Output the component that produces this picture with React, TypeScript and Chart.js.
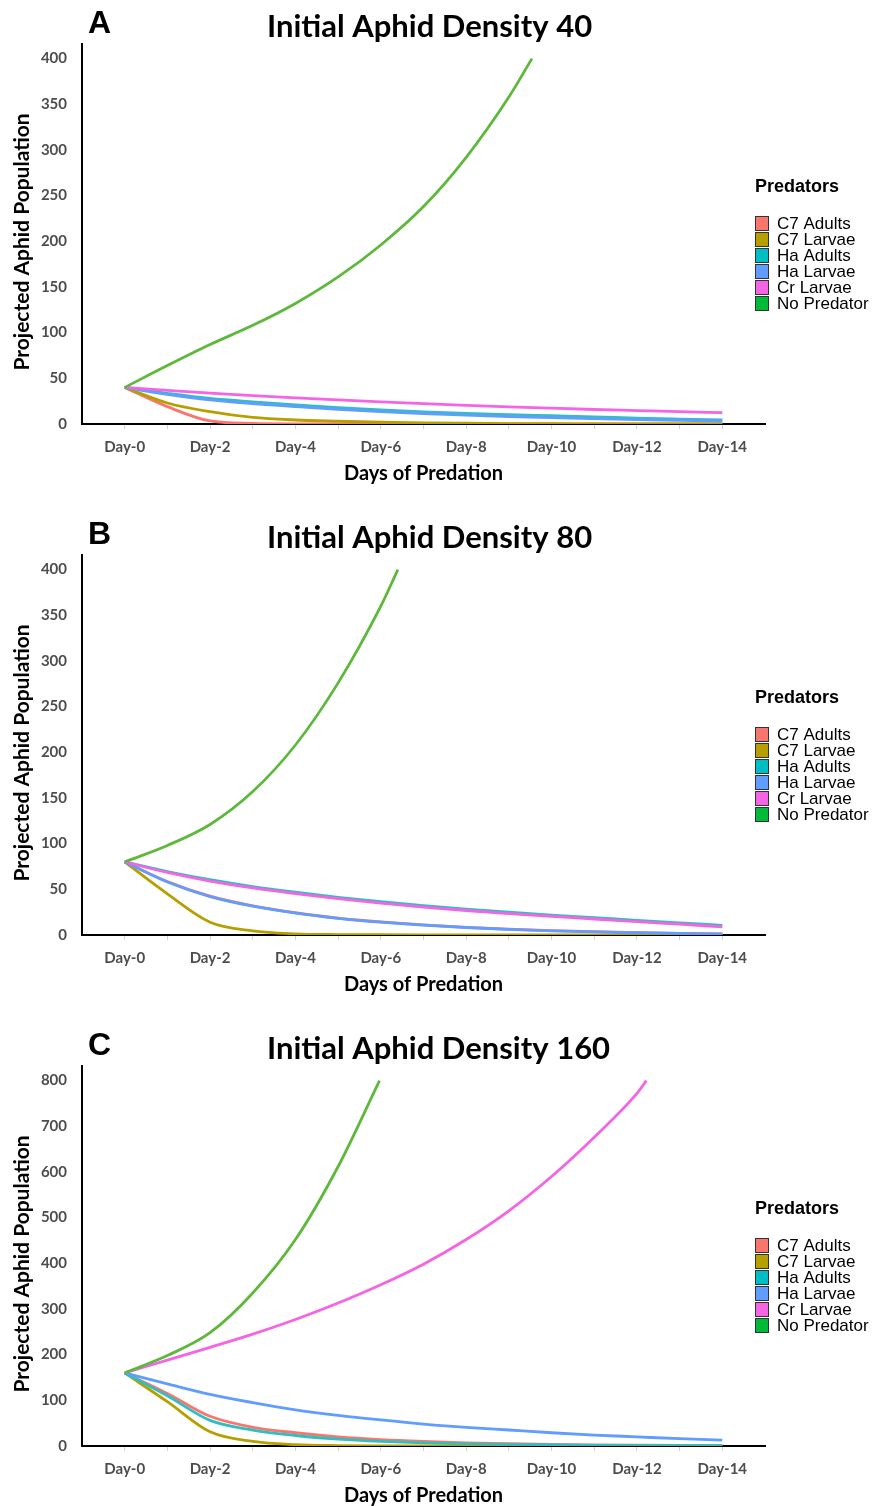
import React, { useEffect, useRef } from 'react';
import { Chart, registerables } from 'chart.js';

Chart.register(...registerables);

// ---------- shared ----------
const days = [0, 1, 2, 3, 4, 5, 6, 7, 8, 9, 10, 11, 12, 13, 14];
const seriesNames = ['C7 Adults', 'C7 Larvae', 'Ha Adults', 'Ha Larvae', 'Cr Larvae', 'No Predator'];
const legendColors = ['#F8766D', '#B79F00', '#00BFC4', '#619CFF', '#F564E3', '#00BA38'];
const lineColors = ['#F8766D', '#B79F00', '#2EBFC2', '#619CFF', '#F564E3', '#5EB83B'];

// ---------- Panel A: initial density 40 ----------
const c7AdultsA = [40, 19, 3.3, 0.6, 0.1, 0, 0, 0, 0, 0, 0, 0, 0, 0, 0];
const c7LarvaeA = [40, 23, 13.5, 7.2, 4.4, 3, 1.9, 1.2, 0.8, 0.5, 0.3, 0.2, 0.1, 0.1, 0.05];
const haAdultsA = [40, 33.6, 28, 24.2, 21, 18, 15.4, 13.3, 11.6, 10.3, 9.1, 7.9, 6.5, 5.4, 4.4];
const haLarvaeA = [40, 32.5, 26.4, 22.2, 19, 16, 13.5, 11.5, 9.8, 8.2, 6.9, 5.8, 4.8, 4, 3.3];
const crLarvaeA = [40, 36.8, 33.8, 31.1, 28.6, 26.3, 24.2, 22.3, 20.5, 18.8, 17.3, 15.9, 14.7, 13.5, 12.4];
const noPredatorDaysA = [0, 1, 2, 3, 4, 5, 6, 7, 8, 9, 9.54];
const noPredatorA = [40, 64, 87, 108, 132, 161, 196, 238, 292, 358, 400];

// ---------- Panel B: initial density 80 ----------
const c7AdultsB = [80, 58.5, 42.5, 32, 24.5, 18.5, 14.4, 11, 8.4, 6.3, 4.8, 3.6, 2.6, 1.8, 1.2];
const c7LarvaeB = [80, 45, 14, 4.5, 1.3, 0.5, 0.3, 0.2, 0.1, 0.1, 0, 0, 0, 0, 0];
const haAdultsB = [80, 69.5, 60.5, 53, 46.8, 41.3, 36.4, 32.1, 28.3, 24.9, 21.8, 19, 16.1, 13.3, 10.6];
const haLarvaeB = [80, 58, 42, 31.5, 24, 18.3, 14, 10.7, 8.2, 6.2, 4.6, 3.4, 2.5, 1.7, 1.1];
const crLarvaeB = [80, 68.5, 59, 51.5, 45.3, 39.8, 34.9, 30.6, 26.8, 23.4, 20.3, 17.5, 14.6, 11.8, 9];
const noPredatorDaysB = [0, 1, 2, 3, 4, 5, 6, 6.4];
const noPredatorB = [80, 98, 121, 157, 208, 276, 360, 400];

// ---------- Panel C: initial density 160 ----------
const c7AdultsC = [160, 115, 65, 41, 29, 20, 14, 10, 7, 5, 3.5, 2.5, 1.8, 1.3, 1];
const c7LarvaeC = [160, 97, 31, 10, 3, 1, 0.4, 0.2, 0.1, 0, 0, 0, 0, 0, 0];
const haAdultsC = [160, 110, 56, 35, 23, 15, 10, 6.7, 4.6, 3.2, 2.2, 1.5, 1, 0.7, 0.5];
const haLarvaeC = [160, 136, 113, 95, 79, 67, 57, 48, 41, 35, 29, 24, 20, 16, 13];
const crLarvaeDaysC = [0, 1, 2, 3, 4, 5, 6, 7, 8, 9, 10, 11, 12, 12.22];
const crLarvaeC = [160, 188, 216, 245, 277, 313, 353, 398, 452, 515, 590, 676, 772, 800];
const noPredatorDaysC = [0, 1, 2, 3, 4, 5, 5.97];
const noPredatorC = [160, 198, 248, 335, 452, 612, 800];

// axis settings
const yMaxA = 416, yStepA = 50;
const yMaxB = 416, yStepB = 50;
const yMaxC = 832, yStepC = 100;

type Series = { xs: number[]; ys: number[] };
type PanelDef = { letter: string; title: string; series: Series[]; yMax: number; yStep: number };

const panels: PanelDef[] = [
  {
    letter: 'A', title: 'Initial Aphid Density 40', yMax: yMaxA, yStep: yStepA,
    series: [
      { xs: days, ys: c7AdultsA }, { xs: days, ys: c7LarvaeA }, { xs: days, ys: haAdultsA },
      { xs: days, ys: haLarvaeA }, { xs: days, ys: crLarvaeA }, { xs: noPredatorDaysA, ys: noPredatorA },
    ],
  },
  {
    letter: 'B', title: 'Initial Aphid Density 80', yMax: yMaxB, yStep: yStepB,
    series: [
      { xs: days, ys: c7AdultsB }, { xs: days, ys: c7LarvaeB }, { xs: days, ys: haAdultsB },
      { xs: days, ys: haLarvaeB }, { xs: days, ys: crLarvaeB }, { xs: noPredatorDaysB, ys: noPredatorB },
    ],
  },
  {
    letter: 'C', title: 'Initial Aphid Density 160', yMax: yMaxC, yStep: yStepC,
    series: [
      { xs: days, ys: c7AdultsC }, { xs: days, ys: c7LarvaeC }, { xs: days, ys: haAdultsC },
      { xs: days, ys: haLarvaeC }, { xs: crLarvaeDaysC, ys: crLarvaeC }, { xs: noPredatorDaysC, ys: noPredatorC },
    ],
  },
];

const PANEL_W = 872;
const PANEL_H = 484;
const PANEL_TOPS = [0, 511, 1022];

function makeOverlay(letter: string, title: string) {
  return {
    id: 'overlay' + letter,
    afterDraw(chart: any) {
      const ctx = chart.ctx as CanvasRenderingContext2D;
      ctx.save();
      ctx.fillStyle = '#000';
      ctx.textBaseline = 'alphabetic';
      ctx.textAlign = 'left';
      ctx.font = 'bold 32px "Liberation Sans", Arial, sans-serif';
      ctx.fillText(letter, 88, 33);
      ctx.font = 'bold 31px Lato, sans-serif';
      ctx.fillText(title, 267, 37);
      // y axis title
      ctx.save();
      ctx.translate(22, 242);
      ctx.rotate(-Math.PI / 2);
      ctx.textAlign = 'center';
      ctx.textBaseline = 'middle';
      ctx.font = 'bold 21px Lato, sans-serif';
      ctx.fillText('Projected Aphid Population', 0, 0);
      ctx.restore();
      // legend
      ctx.textAlign = 'left';
      ctx.textBaseline = 'alphabetic';
      ctx.font = 'bold 18px "Liberation Sans", Arial, sans-serif';
      ctx.fillText('Predators', 755, 192);
      ctx.font = '17px "Liberation Sans", Arial, sans-serif';
      seriesNames.forEach((name, i) => {
        const y = 216 + i * 16;
        ctx.fillStyle = legendColors[i];
        ctx.fillRect(755, y, 14, 15);
        ctx.strokeStyle = '#333333';
        ctx.lineWidth = 1;
        ctx.strokeRect(755.5, y + 0.5, 13, 14);
        ctx.fillStyle = '#000';
        ctx.textBaseline = 'middle';
        ctx.fillText(name, 777, y + 8.5);
      });
      ctx.restore();
    },
  };
}

function buildConfig(p: PanelDef): any {
  const datasets = p.series.map((s, i) => ({
    label: seriesNames[i],
    data: s.xs.map((x, k) => ({ x, y: s.ys[k] })),
    borderColor: lineColors[i],
    backgroundColor: lineColors[i],
    borderWidth: 2.8,
    pointRadius: 0,
    fill: false,
    cubicInterpolationMode: 'monotone',
    order: seriesNames.length - i,
  }));
  const tickFont = { family: 'Lato, sans-serif', weight: 'bold', size: 15 };
  const titleFont = { family: 'Lato, sans-serif', weight: 'bold', size: 20, lineHeight: 1.0 };
  return {
    type: 'line',
    data: { datasets },
    options: {
      animation: false,
      responsive: false,
      devicePixelRatio: 1,
      layout: { padding: { top: 44, right: 107, bottom: 0, left: 0 } },
      plugins: { legend: { display: false }, tooltip: { enabled: false }, title: { display: false } },
      scales: {
        x: {
          type: 'linear',
          min: -1,
          max: 15,
          afterBuildTicks: (s: any) => {
            s.ticks = s.ticks.filter((t: any) => t.value >= 0 && t.value <= 14);
          },
          afterFit: (s: any) => {
            s.height = 60;
          },
          ticks: {
            stepSize: 1,
            autoSkip: false,
            maxRotation: 0,
            color: '#4D4D4D',
            font: tickFont,
            padding: 9,
            callback: (v: any) => (Number(v) % 2 === 0 ? 'Day-' + v : ''),
          },
          grid: { display: true, drawOnChartArea: false, drawTicks: true, tickLength: 5, color: '#D3D3D3' },
          border: { display: true, color: '#000', width: 2 },
          title: { display: true, text: 'Days of Predation', color: '#000', font: titleFont, padding: { top: 0, bottom: 0 } },
        },
        y: {
          type: 'linear',
          min: 0,
          max: p.yMax,
          afterFit: (s: any) => {
            s.width = 82;
          },
          ticks: { stepSize: p.yStep, includeBounds: false, color: '#4D4D4D', font: tickFont, padding: 15 },
          grid: { display: false, drawTicks: false },
          border: { display: true, color: '#000', width: 2 },
          title: { display: false },
        },
      },
    },
    plugins: [makeOverlay(p.letter, p.title)],
  };
}

function Panel({ def, top }: { def: PanelDef; top: number }) {
  const ref = useRef<HTMLCanvasElement>(null);
  useEffect(() => {
    const chart = new Chart(ref.current as HTMLCanvasElement, buildConfig(def));
    return () => chart.destroy();
  }, [def]);
  return (
    <canvas
      ref={ref}
      width={PANEL_W}
      height={PANEL_H}
      style={{ position: 'absolute', left: 0, top, width: PANEL_W, height: PANEL_H }}
    />
  );
}

export default function App() {
  return (
    <div style={{ position: 'absolute', left: 0, top: 0, width: 872, height: 1506, background: '#fff' }}>
      {panels.map((p, i) => (
        <Panel key={p.letter} def={p} top={PANEL_TOPS[i]} />
      ))}
    </div>
  );
}
